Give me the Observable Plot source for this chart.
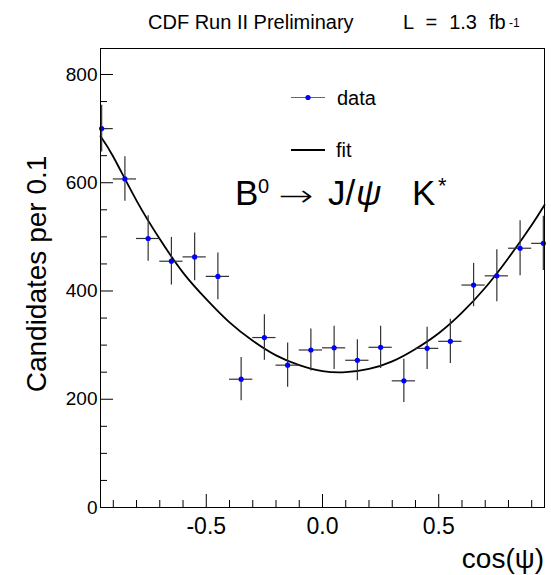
<!DOCTYPE html>
<html>
<head>
<meta charset="utf-8">
<script src="https://cdn.jsdelivr.net/npm/d3@7"></script>
<script src="https://cdn.jsdelivr.net/npm/@observablehq/plot@0.6"></script>
<style>
  html, body { margin: 0; padding: 0; background: #fff; }
</style>
</head>
<body>
<div id="chart"></div>
<script>
// ---- data ----
const binCenters = [-0.95, -0.85, -0.75, -0.65, -0.55, -0.45, -0.35, -0.25, -0.15, -0.05,
                     0.05,  0.15,  0.25,  0.35,  0.45,  0.55,  0.65,  0.75,  0.85,  0.95];
const candidates = [700, 607, 497, 455, 463, 427, 237, 314, 263, 291,
                    295, 272, 296, 234, 294, 307, 411, 428, 479, 488];
const errors     = [43, 41, 42, 44, 44, 43, 40, 42, 41, 39,
                    40, 38, 39, 40, 39, 41, 40, 48, 51, 50];
const binHalfWidth = 0.05;

const fitX = [-0.955, -0.9, -0.8, -0.7, -0.6, -0.5, -0.4, -0.3, -0.2, -0.1, 0.0,
               0.1, 0.2, 0.3, 0.4, 0.5, 0.6, 0.7, 0.8, 0.9, 0.955];
const fitY = [686, 648, 567, 496, 434, 385, 342, 308, 281, 263, 252,
              250, 256, 270, 293, 322, 360, 406, 461, 522, 559];

const xTickLabels = [-0.5, 0.0, 0.5];
const xMinorTicks = [-0.9, -0.8, -0.7, -0.6, -0.4, -0.3, -0.2, -0.1, 0.1, 0.2, 0.3, 0.4, 0.6, 0.7, 0.8, 0.9];
const yTickLabels = [0, 200, 400, 600, 800];
const yMinorTicks = [50, 100, 150, 250, 300, 350, 450, 500, 550, 650, 700, 750];

const xDomain = [-0.955, 0.955];
const yDomain = [0, 848];

// ---- layout ----
const W = 551, H = 575;
const mL = 100, mR = 7, mT = 48, mB = 68;
const frameW = W - mL - mR, frameH = H - mT - mB;
const FONT = "'Liberation Sans', Arial, Helvetica, sans-serif";

const points = binCenters.map((x, i) => ({x, y: candidates[i], e: errors[i]}));
const fit = fitX.map((x, i) => ({x, y: fitY[i]}));

const plot = Plot.plot({
  width: W, height: H,
  marginLeft: mL, marginRight: mR, marginTop: mT, marginBottom: mB,
  style: {fontFamily: FONT, background: "#fff", color: "#000"},
  x: {domain: xDomain},
  y: {domain: yDomain},
  marks: [
    // inward ticks
    Plot.ruleX(xMinorTicks, {x: d => d, insetTop: frameH - 7, stroke: "#000"}),
    Plot.ruleX(xTickLabels, {x: d => d, insetTop: frameH - 13, stroke: "#000"}),
    Plot.ruleY(yMinorTicks, {y: d => d, insetRight: frameW - 7, stroke: "#000"}),
    Plot.ruleY(yTickLabels, {y: d => d, insetRight: frameW - 13, stroke: "#000"}),
    Plot.axisX(xTickLabels, {anchor: "bottom", tickSize: 0, tickPadding: 10, fontSize: 23,
                             tickFormat: d => d.toFixed(1), label: null, fill: "#000"}),
    Plot.axisY(yTickLabels, {anchor: "left", tickSize: 0, tickPadding: 3, fontSize: 19,
                             tickFormat: d => String(d), label: null, fill: "#000"}),
    // fit
    Plot.line(fit, {x: "x", y: "y", curve: "natural", stroke: "#000", strokeWidth: 1.8}),
    // error bars
    Plot.ruleX(points, {x: "x", y1: d => d.y - d.e, y2: d => d.y + d.e, stroke: "#333", strokeWidth: 1.2, clip: true}),
    Plot.ruleY(points, {y: "y", x1: d => d.x - binHalfWidth, x2: d => d.x + binHalfWidth, stroke: "#333", strokeWidth: 1.2, clip: true}),
    Plot.dot(points, {x: "x", y: "y", r: 2.6, fill: "#0000ff", stroke: "none"}),
    Plot.frame({stroke: "#000", strokeWidth: 1})
  ]
});

document.getElementById("chart").appendChild(plot);

// ---- annotations ----
const svg = d3.select(plot);
const g = svg.append("g").attr("font-family", FONT).attr("fill", "#000").attr("text-anchor", "start");

// title
g.append("text").attr("x", 148).attr("y", 29).attr("font-size", 20).text("CDF Run II Preliminary");
g.append("text").attr("x", 403).attr("y", 29).attr("font-size", 20)
  .attr("word-spacing", 6.5).attr("xml:space", "preserve").text("L = 1.3 fb");
g.append("text").attr("x", 509).attr("y", 26.5).attr("font-size", 12).text("-1");

// legend
g.append("line").attr("x1", 291).attr("x2", 325).attr("y1", 97.5).attr("y2", 97.5)
  .attr("stroke", "#666").attr("stroke-width", 1.2);
g.append("circle").attr("cx", 308).attr("cy", 97.5).attr("r", 2.6).attr("fill", "#0000ff");
g.append("text").attr("x", 337).attr("y", 104.5).attr("font-size", 20).text("data");
g.append("line").attr("x1", 291).attr("x2", 325).attr("y1", 150).attr("y2", 150)
  .attr("stroke", "#000").attr("stroke-width", 1.8);
g.append("text").attr("x", 336).attr("y", 156.5).attr("font-size", 20).text("fit");

// decay formula
const f = g.append("text").attr("y", 205).attr("font-size", 35);
f.append("tspan").attr("x", 235).text("B");
f.append("tspan").attr("x", 258).attr("dy", -12).attr("font-size", 20).text("0");
f.append("tspan").attr("x", 328).attr("dy", 12).text("J/");
f.append("tspan").attr("x", 356).attr("font-style", "italic").text("\u03C8");
f.append("tspan").attr("x", 412).text("K");
f.append("tspan").attr("x", 438).attr("dy", -12).attr("font-size", 22).text("*");
g.append("text").attr("font-family", "'DejaVu Sans ExtraLight', 'DejaVu Sans', sans-serif")
  .attr("font-weight", 200).attr("font-size", 30)
  .attr("transform", "translate(278,206) scale(1.4,1)").text("\u2192");

// axis titles
g.append("text").attr("text-anchor", "middle").attr("font-size", 28)
  .attr("transform", "translate(46,274) rotate(-90)").text("Candidates per 0.1");
g.append("text").attr("text-anchor", "end").attr("x", 544).attr("y", 568).attr("font-size", 28)
  .text("cos(\u03C8)");
</script>
</body>
</html>
